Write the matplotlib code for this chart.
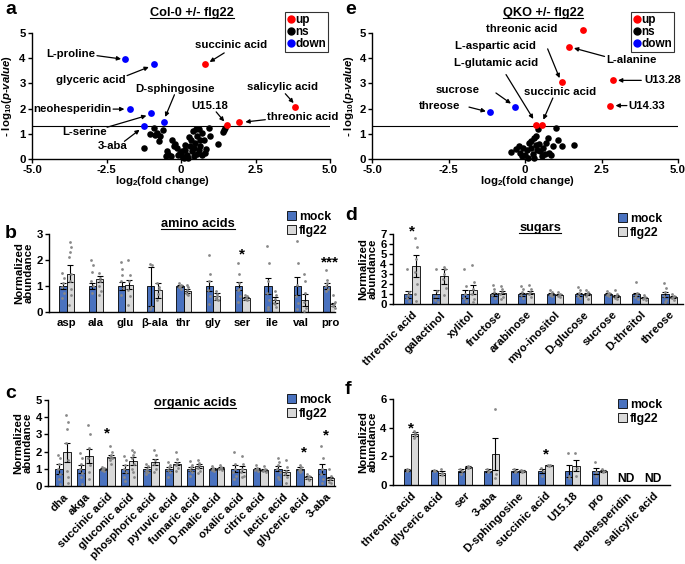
import matplotlib
matplotlib.use("Agg")
import numpy as np
import matplotlib.pyplot as plt
from matplotlib.patches import Patch
from matplotlib.lines import Line2D

plt.rcParams["font.family"] = ["Liberation Sans", "DejaVu Sans"]
plt.rcParams["font.weight"] = "bold"
plt.rcParams["axes.labelweight"] = "bold"
plt.rcParams["mathtext.fontset"] = "custom"
plt.rcParams["mathtext.rm"] = "Liberation Sans:bold"
plt.rcParams["mathtext.it"] = "Liberation Sans:bold:italic"
plt.rcParams["mathtext.bf"] = "Liberation Sans:bold"

BLUE = "#4a72bf"
GREY = "#d9d9d9"
DOT = "#888888"
FS = 8.2

# ---------------- volcano data ----------------
a_up_x = [0.80, 3.83, 1.96, 1.56]
a_up_y = [3.78, 2.08, 1.47, 1.36]
a_down_x = [-1.87, -0.92, -1.72, -1.01, -0.58, -1.25]
a_down_y = [3.97, 3.77, 1.98, 1.83, 1.48, 1.32]
a_ns_x = [-1.23, -1.05, -0.92, -0.80, -0.70, -0.75, -0.62, -0.88, -0.30, -0.25, -0.47, -0.50,
          -0.42, -0.13, -0.02, 0.03, 0.15, 0.20, 0.31, 0.37, 0.42, 0.48, 0.54, 0.59, 0.65, 0.70,
          0.76, 0.82, 0.93, 0.98, 1.24, 1.43, 1.49, 1.41, 0.10, 0.25, -0.10, 0.45, 0.55, 0.35,
          0.40, 0.50, 0.60, 0.70, 0.28, 0.05, -0.20, -0.35, 0.15, 0.65, 0.85]
a_ns_y = [0.44, 0.98, 1.22, 1.05, 0.92, 0.70, 1.15, 0.95, 0.77, 0.50, 0.30, 0.10,
          0.18, 0.44, 0.24, 0.10, 0.37, 0.17, 0.50, 0.30, 0.10, 0.63, 0.90, 1.20, 0.50, 1.03,
          0.77, 0.24, 1.22, 0.90, 0.61, 1.16, 1.23, 1.06, 0.05, 0.02, 0.15, 0.45, 0.20, 0.75,
          1.10, 1.20, 0.35, 0.15, 0.88, 0.30, 0.60, 0.10, 0.55, 0.75, 0.40]
a_labels = ["L-proline", "glyceric acid", "succinic acid", "salicylic acid", "D-sphingosine",
            "U15.18", "threonic acid", "neohesperidin", "L-serine", "3-aba"]
a_text_xy = [(-3.71, 4.18), (-3.04, 3.15), (1.68, 4.54), (3.42, 2.84), (-0.21, 2.78),
             (0.98, 2.12), (4.07, 1.67), (-3.65, 1.98), (-3.24, 1.07), (-2.31, 0.50)]
a_arrow_from = [(-2.82, 4.10), (-1.81, 3.31), (1.45, 4.21), (3.50, 2.59), (-0.22, 2.55),
                (1.18, 1.87), (2.83, 1.56), (-2.28, 1.98), (-2.48, 1.26), (-1.90, 0.70)]
a_arrow_to = [(-2.01, 3.97), (-1.08, 3.65), (0.96, 3.85), (3.78, 2.22), (-0.53, 1.67),
              (1.45, 1.49), (2.16, 1.47), (-1.90, 1.98), (-1.16, 1.72), (-1.39, 1.16)]

e_up_x = [1.90, 1.43, 1.22, 2.88, 2.77, 0.35, 0.57]
e_up_y = [5.13, 4.43, 3.04, 3.12, 2.12, 1.36, 1.36]
e_down_x = [-0.32, -1.14]
e_down_y = [2.05, 1.85]
e_ns_x = [-0.45, -0.30, -0.18, -0.15, -0.10, 0.00, 0.05, 0.14, 0.20, 0.25, 0.30, 0.30, 0.36,
          0.41, 0.45, 0.50, 0.55, 0.60, 0.69, 0.74, 0.80, 0.90, 1.00, 1.08, 0.85, 1.21, 1.61,
          0.10, 0.40, 0.65, 0.20, -0.05, 0.35]
e_ns_y = [0.26, 0.40, 0.50, 0.25, 0.10, 0.15, 0.35, 0.63, 0.45, 0.20, 0.05, 0.85, 0.90,
          1.19, 0.60, 0.30, 0.10, 0.45, 0.63, 0.83, 0.25, 0.50, 1.23, 0.77, 0.15, 0.50, 0.55,
          0.02, 0.35, 0.20, 0.70, 0.45, 0.55]
e_labels = ["threonic acid", "L-aspartic acid", "L-alanine", "L-glutamic acid", "U13.28",
            "sucrose", "succinic acid", "threose", "U14.33"]
e_text_xy = [(-0.12, 5.16), (-0.97, 4.47), (3.48, 3.94), (-0.95, 3.81), (4.49, 3.12),
             (-2.20, 2.72), (1.14, 2.65), (-2.80, 2.12), (3.97, 2.12)]
e_arrow_from = [(1.13, 5.16), (0.74, 4.37), (2.60, 4.07), (-0.62, 3.35), (3.80, 3.12),
                (-0.95, 2.62), (0.91, 2.42), (-1.83, 2.06), (3.33, 2.12)]
e_arrow_to = [(1.69, 5.13), (1.13, 3.21), (1.60, 4.40), (0.27, 1.59), (3.04, 3.12),
              (-0.46, 2.20), (0.60, 1.56), (-1.28, 1.89), (2.96, 2.12)]

# ---------------- bar data ----------------
b_cats = ["asp", "ala", "glu", "β-ala", "thr", "gly", "ser", "ile", "val", "pro"]
b_mock = [1, 1, 1, 1, 1, 1, 1, 1, 1, 1]
b_mock_err = [0.12, 0.10, 0.17, 0.75, 0.05, 0.20, 0.17, 0.30, 0.35, 0.10]
b_flg = [1.47, 1.27, 1.05, 0.83, 0.82, 0.60, 0.53, 0.47, 0.47, 0.30]
b_flg_err = [0.33, 0.13, 0.17, 0.28, 0.08, 0.12, 0.05, 0.12, 0.23, 0.05]
b_mock_pts = [[1.5, 1.3, 1.1, 0.95, 0.75, 0.55], [2.0, 1.8, 1.55, 1.2, 1.0, 0.75],
              [1.92, 1.67, 1.43, 1.18, 0.92, 0.67], [1.85, 1.8, 0.2, 0.1],
              [1.1, 1.05, 1.0, 0.95, 0.9, 1.0], [2.2, 1.45, 1.2, 0.85, 0.6, 0.3],
              [1.9, 1.45, 1.1, 0.85, 0.6, 0.4, 0.9], [2.55, 1.9, 1.2, 0.75, 0.45, 0.2, 0.1],
              [2.75, 1.9, 1.05, 0.6, 0.35, 0.1], [1.6, 1.25, 1.1, 1.0, 0.9, 0.8]]
b_flg_pts = [[2.7, 2.5, 2.3, 2.1, 1.45, 1.2, 0.9, 0.65, 0.28], [1.5, 1.3, 1.18, 1.0, 0.8, 0.67],
             [2.0, 1.43, 1.18, 0.86, 0.6, 0.28], [1.1, 0.95, 0.7, 0.45, 0.9],
             [1.05, 0.95, 0.85, 0.75, 0.65, 0.7], [0.8, 0.7, 0.6, 0.5, 0.45, 0.55],
             [0.65, 0.6, 0.55, 0.5, 0.45], [0.8, 0.65, 0.5, 0.35, 0.2, 0.3],
             [1.45, 1.2, 0.75, 0.4, 0.15, 0.05], [0.65, 0.4, 0.3, 0.25, 0.15]]
b_stars = [(6, 2.2, "*"), (9, 1.92, "***")]

c_cats = ["dha", "akga", "succinic acid", "gluconic acid", "phosphoric acid", "pyruvic acid",
          "fumaric acid", "D-malic acid", "oxalic acid", "citric acid", "lactic acid",
          "glyceric acid", "3-aba"]
c_mock = [1] * 13
c_mock_err = [0.30, 0.25, 0.05, 0.25, 0.10, 0.12, 0.10, 0.05, 0.20, 0.05, 0.15, 0.08, 0.28]
c_flg = [1.95, 1.75, 1.70, 1.45, 1.40, 1.30, 1.15, 1.05, 1.00, 0.95, 0.80, 0.50, 0.45]
c_flg_err = [0.55, 0.40, 0.10, 0.22, 0.18, 0.10, 0.12, 0.05, 0.18, 0.06, 0.15, 0.07, 0.10]
c_mock_pts = [[1.8, 1.6, 1.3, 1.0, 0.7, 0.4, 0.1], [1.9, 1.6, 1.3, 1.0, 0.75, 0.5, 0.1],
              [1.1, 1.05, 1.0, 0.95, 0.9], [1.75, 1.5, 1.2, 1.0, 0.8, 0.5, 0.3],
              [1.3, 1.15, 1.0, 0.9, 0.8, 0.7], [1.4, 1.25, 1.1, 0.95, 0.8, 0.5],
              [1.45, 1.25, 1.1, 0.95, 0.8, 0.6], [1.15, 1.05, 1.0, 0.95, 0.85],
              [1.95, 1.3, 1.0, 0.8, 0.6, 0.4], [1.2, 1.05, 1.0, 0.95, 0.85],
              [1.6, 1.4, 1.2, 1.0, 0.8, 0.5, 0.4], [1.2, 1.1, 1.0, 0.95, 0.85, 0.8],
              [2.35, 1.65, 1.0, 0.7, 0.4, 0.2]]
c_flg_pts = [[4.15, 3.75, 3.3, 2.5, 1.5, 0.9, 0.5, 0.2], [3.55, 3.0, 2.2, 1.6, 1.2, 0.8, 0.4],
             [2.35, 1.95, 1.8, 1.7, 1.6, 1.5, 1.3], [2.1, 1.95, 1.8, 1.6, 1.3, 1.0, 0.8, 0.5],
             [2.1, 1.8, 1.5, 1.3, 1.0, 0.8], [1.95, 1.55, 1.35, 1.2, 1.05, 0.9],
             [1.5, 1.35, 1.2, 1.05, 0.9, 0.75], [1.2, 1.1, 1.05, 1.0, 0.95],
             [1.75, 1.3, 1.0, 0.8, 0.6, 0.5], [1.15, 1.0, 0.95, 0.85, 0.8],
             [1.5, 1.1, 0.85, 0.7, 0.5, 0.2], [0.7, 0.6, 0.5, 0.45, 0.35],
             [1.0, 0.6, 0.4, 0.25, 0.15]]
c_stars = [(2, 3.05, "*"), (11, 1.95, "*"), (12, 2.96, "*")]

d_cats = ["threonic acid", "galactinol", "xylitol", "fructose", "arabinose", "myo-inositol",
          "D-glucose", "sucrose", "D-threitol", "threose"]
d_mock = [1] * 10
d_mock_err = [0.35, 0.40, 0.40, 0.15, 0.15, 0.10, 0.15, 0.08, 0.15, 0.25]
d_flg = [3.80, 2.80, 1.45, 1.15, 1.15, 0.95, 1.00, 0.85, 0.65, 0.75]
d_flg_err = [1.10, 0.75, 0.45, 0.15, 0.15, 0.07, 0.10, 0.10, 0.08, 0.10]
d_mock_pts = [[3.5, 1.2, 0.9, 0.6, 0.3], [3.5, 1.3, 0.8, 0.4, 0.2], [3.5, 1.8, 1.0, 0.6, 0.3],
              [1.9, 1.5, 1.2, 0.9, 0.6], [1.8, 1.5, 1.2, 0.9, 0.6], [1.4, 1.2, 1.0, 0.9, 0.8],
              [1.7, 1.4, 1.1, 0.8, 0.6], [1.3, 1.1, 1.0, 0.9, 0.8], [2.2, 1.1, 0.9, 0.7, 0.5],
              [2.1, 1.6, 1.2, 0.8, 0.4, 0.2]]
d_flg_pts = [[6.6, 5.7, 4.5, 3.2, 2.0, 1.0, 0.3], [3.7, 3.5, 3.0, 2.5, 1.6, 0.9],
             [3.9, 2.2, 1.5, 1.0, 0.5, 0.2], [1.8, 1.5, 1.2, 1.0, 0.7, 0.5],
             [1.9, 1.5, 1.2, 1.0, 0.7], [1.2, 1.0, 0.9, 0.8, 0.7], [1.4, 1.2, 1.0, 0.8, 0.5],
             [1.4, 1.0, 0.8, 0.6, 0.5], [0.9, 0.7, 0.6, 0.5, 0.4], [1.0, 0.8, 0.7, 0.6, 0.4]]
d_stars = [(0, 7.3, "*")]

f_cats = ["threonic acid", "glyceric acid", "ser", "3-aba", "D-sphingosine", "succinic acid",
          "U15.18", "pro", "neohesperidin", "salicylic acid"]
f_mock = [1.05, 1.0, 1.0, 1.0, 1.0, 1.0, 1.0, 1.0]
f_mock_err = [0.05, 0.02, 0.12, 0.10, 0.10, 0.15, 0.42, 0.22]
f_flg = [3.55, 0.85, 1.25, 2.15, 0.98, 1.38, 1.35, 0.98]
f_flg_err = [0.12, 0.12, 0.05, 1.10, 0.07, 0.03, 0.40, 0.10]
f_mock_pts = [[1.15, 1.05, 0.95], [1.02, 1.0, 0.98], [1.15, 1.0, 0.75], [1.1, 1.0, 0.9],
              [1.15, 1.0, 0.9], [1.2, 1.0, 0.6], [2.2, 0.6, 0.5], [1.6, 0.9, 0.6]]
f_flg_pts = [[3.8, 3.6, 3.4, 3.3], [1.1, 0.85, 0.7], [1.3, 1.25, 1.2], [5.3, 0.8, 0.5],
             [1.05, 0.95, 0.9], [1.42, 1.38, 1.35], [2.2, 1.2, 0.6], [1.1, 1.0, 0.9]]
f_stars = [(0, 3.95, "*"), (5, 2.1, "*")]
f_nd = [8, 9]

W, H = 685, 564
fig = plt.figure(figsize=(6.85, 5.64), dpi=100)


def add_ax(l, t, r, b):
    return fig.add_axes([l / W, 1 - b / H, (r - l) / W, (b - t) / H])


def fig_text(px, py, s, **kw):
    return fig.text(px / W, 1 - py / H, s, **kw)


def style(ax):
    for side in ["top", "right"]:
        ax.spines[side].set_visible(False)
    for side in ["left", "bottom"]:
        ax.spines[side].set_linewidth(1.0)
    ax.tick_params(labelsize=FS, width=1.0, length=3, pad=1.5)


def volcano(ax, up_x, up_y, ns_x, ns_y, down_x, down_y, labels, txy, afrom, ato):
    ax.scatter(ns_x, ns_y, s=22, c="black", zorder=3, clip_on=False, linewidths=0)
    ax.scatter(up_x, up_y, s=24, c="red", zorder=3, clip_on=False, linewidths=0)
    ax.scatter(down_x, down_y, s=24, c="blue", zorder=3, clip_on=False, linewidths=0)
    ax.axhline(1.3, color="black", lw=0.8)
    ax.set_xlim(-5, 5)
    ax.set_ylim(0, 5)
    ax.set_xticks([-5, -2.5, 0, 2.5, 5])
    ax.set_xticklabels(["-5.0", "-2.5", "0", "2.5", "5.0"])
    ax.set_yticks(range(6))
    style(ax)
    for lab, (tx, ty), p0, p1 in zip(labels, txy, afrom, ato):
        ax.text(tx, ty, lab, ha="center", va="center", fontsize=FS, fontweight="bold")
        ax.annotate("", xy=p1, xytext=p0,
                    arrowprops=dict(arrowstyle="-|>", color="black", lw=0.9,
                                    mutation_scale=6, shrinkA=0, shrinkB=0))


def bars(ax, cats, mock, mock_err, flg, flg_err, mock_pts, flg_pts, w, xlim, ylim, yticks,
         stars, rot):
    n = len(mock)
    x = np.arange(n)
    ekw = dict(lw=0.8, capsize=2, capthick=0.8, ecolor="black")
    ax.bar(x - w / 2, mock, w, yerr=mock_err, color=BLUE, edgecolor="black", lw=0.6,
           error_kw=ekw, zorder=2)
    ax.bar(x + w / 2, flg, w, yerr=flg_err, color=GREY, edgecolor="black", lw=0.6,
           error_kw=ekw, zorder=2)
    offs = [-0.05, 0.05, 0.0, -0.07, 0.07, -0.03, 0.03, 0.06, -0.06]
    for i in range(n):
        for k, v in enumerate(mock_pts[i]):
            ax.scatter(i - w / 2 + offs[k % 9] * w * 2, v, s=4, c=DOT, zorder=4, linewidths=0,
                       clip_on=False)
        for k, v in enumerate(flg_pts[i]):
            ax.scatter(i + w / 2 + offs[k % 9] * w * 2, v, s=4, c=DOT, zorder=4, linewidths=0,
                       clip_on=False)
    for i, y, s in stars:
        ax.text(i, y, s, ha="center", va="center", fontsize=11, fontweight="bold")
    ax.set_xlim(*xlim)
    ax.set_ylim(*ylim)
    ax.set_yticks(yticks)
    ax.set_xticks(np.arange(len(cats)))
    style(ax)
    ax.tick_params(axis="x", length=0, pad=4)
    if rot:
        ax.set_xticklabels(cats, rotation=45, ha="right", rotation_mode="anchor")
    else:
        ax.set_xticklabels(cats)
    ax.set_ylabel("Normalized\nabundance", fontsize=FS, fontweight="bold", labelpad=2,
                  linespacing=0.95)


def bar_legend(ax, px, py):
    h = [Patch(facecolor=BLUE, edgecolor="black", lw=0.6),
         Patch(facecolor=GREY, edgecolor="black", lw=0.6)]
    ax.legend(h, ["mock", "flg22"], loc="upper left", bbox_to_anchor=(px / W, 1 - py / H),
              bbox_transform=fig.transFigure, frameon=False, fontsize=8.8,
              handlelength=0.7, handleheight=0.7, handletextpad=0.3, labelspacing=0.15,
              borderpad=0, borderaxespad=0)


def volc_legend(ax, px, py):
    h = [Line2D([], [], ls="", marker="o", color=c, markersize=5)
         for c in ["red", "black", "blue"]]
    leg = ax.legend(h, ["up", "ns", "down"], loc="upper right",
                    bbox_to_anchor=(px / W, 1 - py / H), bbox_transform=fig.transFigure,
                    fancybox=False, fontsize=8.5, handlelength=0.6, handletextpad=0.1,
                    labelspacing=0.0, borderpad=0.15, borderaxespad=0)
    leg.get_frame().set_edgecolor("black")
    leg.get_frame().set_linewidth(0.8)


titles = []

# panel a
ax_a = add_ax(32, 33, 330, 159)
volcano(ax_a, a_up_x, a_up_y, a_ns_x, a_ns_y, a_down_x, a_down_y, a_labels, a_text_xy,
        a_arrow_from, a_arrow_to)
volc_legend(ax_a, 328, 12)
titles.append(fig_text(192, 13, "Col-0 +/- flg22", ha="center", va="center", fontsize=9.2))
fig_text(162, 181, r"log$_2$(fold change)", ha="center", va="center", fontsize=FS)
fig_text(7, 96, r"- log$_{10}$($\it{p}$-$\it{value}$)", ha="center", va="center",
         rotation=90, fontsize=FS)

# panel e
ax_e = add_ax(372, 33, 678, 159)
volcano(ax_e, e_up_x, e_up_y, e_ns_x, e_ns_y, e_down_x, e_down_y, e_labels, e_text_xy,
        e_arrow_from, e_arrow_to)
volc_legend(ax_e, 674, 12)
titles.append(fig_text(543, 13, "QKO +/- flg22", ha="center", va="center", fontsize=9.2))
fig_text(527, 181, r"log$_2$(fold change)", ha="center", va="center", fontsize=FS)
fig_text(349, 96, r"- log$_{10}$($\it{p}$-$\it{value}$)", ha="center", va="center",
         rotation=90, fontsize=FS)

# panel b
ax_b = add_ax(49, 234, 335, 312)
bars(ax_b, b_cats, b_mock, b_mock_err, b_flg, b_flg_err, b_mock_pts, b_flg_pts, 0.25,
     (-0.6, 9.16), (0, 3), [0, 1, 2, 3], b_stars, False)
bar_legend(ax_b, 287, 211)
titles.append(fig_text(198, 224, "amino acids", ha="center", va="center", fontsize=9.2))

# panel c
ax_c = add_ax(48, 400, 335, 486)
bars(ax_c, c_cats, c_mock, c_mock_err, c_flg, c_flg_err, c_mock_pts, c_flg_pts, 0.36,
     (-0.69, 12.4), (0, 5), [0, 1, 2, 3, 4, 5], c_stars, True)
bar_legend(ax_c, 287, 394)
titles.append(fig_text(195, 403, "organic acids", ha="center", va="center", fontsize=9.2))

# panel d
ax_d = add_ax(393, 234, 683, 304)
bars(ax_d, d_cats, d_mock, d_mock_err, d_flg, d_flg_err, d_mock_pts, d_flg_pts, 0.28,
     (-0.66, 9.49), (0, 7), list(range(8)), d_stars, True)
bar_legend(ax_d, 618, 213)
titles.append(fig_text(540, 228, "sugars", ha="center", va="center", fontsize=9.2))

# panel f
ax_f = add_ax(393, 399, 670, 485)
bars(ax_f, f_cats, f_mock, f_mock_err, f_flg, f_flg_err, f_mock_pts, f_flg_pts, 0.27,
     (-0.67, 9.63), (0, 6), [0, 2, 4, 6], f_stars, True)
for i in f_nd:
    ax_f.text(i, 0.45, "ND", ha="center", va="center", fontsize=FS + 0.5, fontweight="bold")
bar_legend(ax_f, 618, 399)

# panel letters
for px, py, s in [(5, 10, "a"), (345, 10, "e"), (5, 233, "b"), (5, 393, "c"),
                  (345, 216, "d"), (345, 390, "f")]:
    fig_text(px, py, s, ha="left", va="center", fontsize=14, fontweight="bold")

# underline titles
fig.canvas.draw()
r = fig.canvas.get_renderer()
for t in titles:
    bb = t.get_window_extent(r).transformed(fig.transFigure.inverted())
    fig.add_artist(Line2D([bb.x0, bb.x1], [bb.y0 + 0.001, bb.y0 + 0.001],
                          transform=fig.transFigure, color="black", lw=0.8))

fig.savefig("out.png", dpi=100)
